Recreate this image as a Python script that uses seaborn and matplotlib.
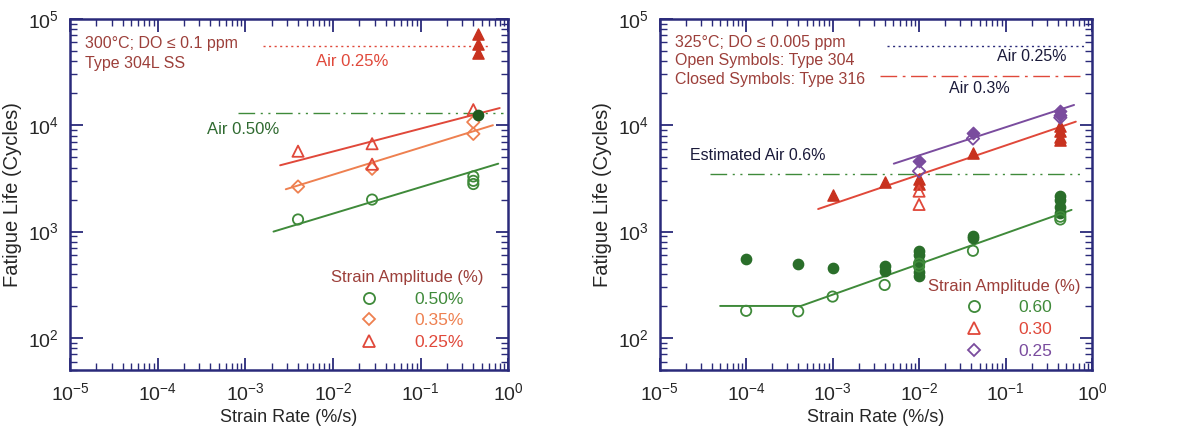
import numpy as np
import pandas as pd
import seaborn as sns
import matplotlib.pyplot as plt
from matplotlib.lines import Line2D

# ---- data: left panel (300 C, Type 304L) ----
l_c_x = [0.004, 0.028, 0.4, 0.4, 0.4]
l_c_y = [1300, 2000, 2800, 3000, 3300]
l_cf_x = [0.45]
l_cf_y = [12500]
l_d_x = [0.004, 0.028, 0.4, 0.4]
l_d_y = [2650, 3900, 8300, 10700]
l_t_x = [0.004, 0.028, 0.028, 0.4]
l_t_y = [5700, 6700, 4300, 14000]
l_tf_x = [0.45, 0.45, 0.45]
l_tf_y = [48000, 58000, 72000]

l_fit_c = ([0.0021, 0.77], [1000, 4350])
l_fit_d = ([0.0029, 0.67], [2500, 10000])
l_fit_t = ([0.0025, 0.8], [4200, 14500])
l_air_025 = ([0.0016, 0.6], [55000, 55000])
l_air_050 = ([0.00083, 0.87], [12900, 12900])

# ---- data: right panel (325 C, Type 304/316) ----
r_c_x = [1e-4, 4e-4, 1e-3, 4e-3, 0.01, 0.01, 0.042, 0.43, 0.43]
r_c_y = [180, 178, 245, 315, 470, 500, 660, 1300, 1380]
r_cf_x = [1e-4, 4e-4, 1e-3, 4e-3, 4e-3, 0.01, 0.01, 0.01, 0.01, 0.01,
          0.042, 0.042, 0.43, 0.43, 0.43, 0.43]
r_cf_y = [550, 500, 450, 470, 425, 660, 600, 520, 420, 380,
          900, 870, 2150, 2000, 1700, 1500]
r_t_x = [0.01, 0.01]
r_t_y = [1800, 2400]
r_tf_x = [1e-3, 4e-3, 0.01, 0.01, 0.042, 0.43, 0.43, 0.43, 0.43]
r_tf_y = [2200, 2950, 2800, 3100, 5500, 9800, 8800, 7800, 7200]
r_d_x = [0.01, 0.042, 0.43]
r_d_y = [3700, 7500, 11800]
r_df_x = [0.01, 0.042, 0.43, 0.43]
r_df_y = [4600, 8400, 12600, 13500]

r_fit_c = ([5e-5, 4.3e-4, 0.58], [200, 200, 1600])
r_fit_t = ([6.8e-4, 0.65], [1630, 10800])
r_fit_d = ([0.0051, 0.62], [4350, 15500])
r_air_025 = ([0.0043, 0.8], [56000, 56000])
r_air_03 = ([0.0035, 0.8], [29000, 29000])
r_air_06 = ([3.8e-5, 0.74], [3500, 3500])

GREEN = "#3f8a3a"
DKGREEN = "#2a6e2a"
ORANGE = "#ee8050"
RED = "#e0483a"
DKRED = "#c8321f"
PURPLE = "#7a4c9e"
NAVY = "#2a2a7a"
TXT = "#9c3f3a"

sns.set_style("ticks")
plt.rcParams["font.family"] = ["Liberation Sans", "DejaVu Sans"]

fig = plt.figure(figsize=(11.78, 4.33), dpi=100)
ax1 = fig.add_axes([0.0594, 0.1455, 0.372, 0.811])
ax2 = fig.add_axes([0.560, 0.1455, 0.367, 0.811])


def pts(ax, x, y, marker, color, filled, s=55):
    df = pd.DataFrame({"x": x, "y": y})
    if filled:
        sns.scatterplot(data=df, x="x", y="y", ax=ax, marker=marker, s=s,
                        color=color, edgecolor=color, linewidth=1.0, zorder=4)
    else:
        sns.scatterplot(data=df, x="x", y="y", ax=ax, marker=marker, s=s,
                        facecolor="none", edgecolor=color, linewidth=1.3, zorder=4)


def line(ax, xy, color, ls="-", lw=1.4):
    df = pd.DataFrame({"x": xy[0], "y": xy[1]})
    sns.lineplot(data=df, x="x", y="y", ax=ax, color=color, linestyle=ls,
                 linewidth=lw, estimator=None, sort=False, zorder=3)


def style_axes(ax):
    ax.set_xscale("log")
    ax.set_yscale("log")
    ax.set_xlim(1e-5, 1)
    ax.set_ylim(50, 1e5)
    ax.set_xlabel("Strain Rate (%/s)", fontsize=13, labelpad=3)
    ax.set_ylabel("Fatigue Life (Cycles)", fontsize=14.5, labelpad=4)
    for sp in ax.spines.values():
        sp.set_visible(True)
        sp.set_color(NAVY)
        sp.set_linewidth(1.8)
    ax.tick_params(which="both", direction="in", top=True, right=True,
                   color=NAVY, labelsize=14)
    ax.tick_params(which="major", length=9, width=1.3)
    ax.tick_params(axis="x", which="major", pad=9)
    ax.tick_params(axis="y", which="major", pad=8)
    ax.tick_params(which="minor", length=5, width=1.0)
    ax.xaxis.set_major_locator(plt.LogLocator(base=10, numticks=10))
    ax.xaxis.set_minor_locator(plt.LogLocator(base=10, subs=np.arange(2, 10), numticks=20))


def legend(ax, labels, markers, colors, anchor):
    sizes = {"o": 8, "^": 8.5, "D": 6.5}
    handles = [Line2D([], [], linestyle="none", marker=m, markersize=sizes[m],
                      markerfacecolor="none", markeredgecolor=c, markeredgewidth=1.3)
               for m, c in zip(markers, colors)]
    leg = ax.legend(handles, labels, title="Strain Amplitude (%)", loc="upper right",
                    bbox_to_anchor=anchor, frameon=False, fontsize=12.5,
                    title_fontsize=12, handletextpad=1.6, labelspacing=0.38,
                    borderaxespad=0)
    leg.get_title().set_color(TXT)
    for t, c in zip(leg.get_texts(), colors):
        t.set_color(c)
    leg._legend_box.align = "center"
    return leg


# ---- left panel ----
line(ax1, l_fit_c, GREEN)
line(ax1, l_fit_d, ORANGE)
line(ax1, l_fit_t, RED)
line(ax1, l_air_025, RED, ls=(0, (1.5, 2.5)), lw=1.0)
line(ax1, l_air_050, GREEN, ls=(0, (12, 4, 1.5, 4, 1.5, 4)), lw=1.0)
pts(ax1, l_c_x, l_c_y, "o", GREEN, False)
pts(ax1, l_d_x, l_d_y, "D", ORANGE, False, s=40)
pts(ax1, l_t_x, l_t_y, "^", RED, False, s=65)
pts(ax1, l_cf_x, l_cf_y, "o", "#1f5a1f", True)
pts(ax1, l_tf_x, l_tf_y, "^", DKRED, True, s=65)
style_axes(ax1)
ax1.text(0.035, 0.95, "300°C; DO ≤ 0.1 ppm\nType 304L SS", transform=ax1.transAxes,
         fontsize=11.5, color=TXT, va="top", linespacing=1.35)
ax1.text(0.0166, 4.0e4, "Air 0.25%", fontsize=12, color=RED, ha="center", va="center")
ax1.text(0.00094, 9.2e3, "Air 0.50%", fontsize=12, color="#2f6a30", ha="center", va="center")
legend(ax1, ["0.50%", "0.35%", "0.25%"], ["o", "D", "^"], [GREEN, ORANGE, RED], (0.96, 0.305))

# ---- right panel ----
line(ax2, r_fit_c, GREEN)
line(ax2, r_fit_t, RED)
line(ax2, r_fit_d, PURPLE)
line(ax2, r_air_025, NAVY, ls=(0, (1.5, 2.5)), lw=1.0)
line(ax2, r_air_03, RED, ls=(0, (12, 4, 2, 4)), lw=1.0)
line(ax2, r_air_06, GREEN, ls=(0, (12, 4, 1.5, 4, 1.5, 4)), lw=1.0)
pts(ax2, r_cf_x, r_cf_y, "o", DKGREEN, True)
pts(ax2, r_c_x, r_c_y, "o", GREEN, False)
pts(ax2, r_tf_x, r_tf_y, "^", DKRED, True, s=65)
pts(ax2, r_t_x, r_t_y, "^", RED, False, s=65)
pts(ax2, r_df_x, r_df_y, "D", PURPLE, True, s=40)
pts(ax2, r_d_x, r_d_y, "D", PURPLE, False, s=40)
style_axes(ax2)
ax2.text(0.035, 0.955, "325°C; DO ≤ 0.005 ppm\nOpen Symbols: Type 304\nClosed Symbols: Type 316",
         transform=ax2.transAxes, fontsize=11.5, color=TXT, va="top", linespacing=1.3)
ax2.text(0.2, 4.4e4, "Air 0.25%", fontsize=11.5, color="#1a1a3a", ha="center", va="center")
ax2.text(0.05, 2.2e4, "Air 0.3%", fontsize=11.5, color="#1a1a3a", ha="center", va="center")
ax2.text(1.35e-4, 5.2e3, "Estimated Air 0.6%", fontsize=11.5, color="#1a1a3a", ha="center", va="center")
legend(ax2, ["0.60", "0.30", "0.25"], ["o", "^", "D"], [GREEN, RED, PURPLE], (0.99, 0.28))

fig.savefig("out.png", dpi=100)
